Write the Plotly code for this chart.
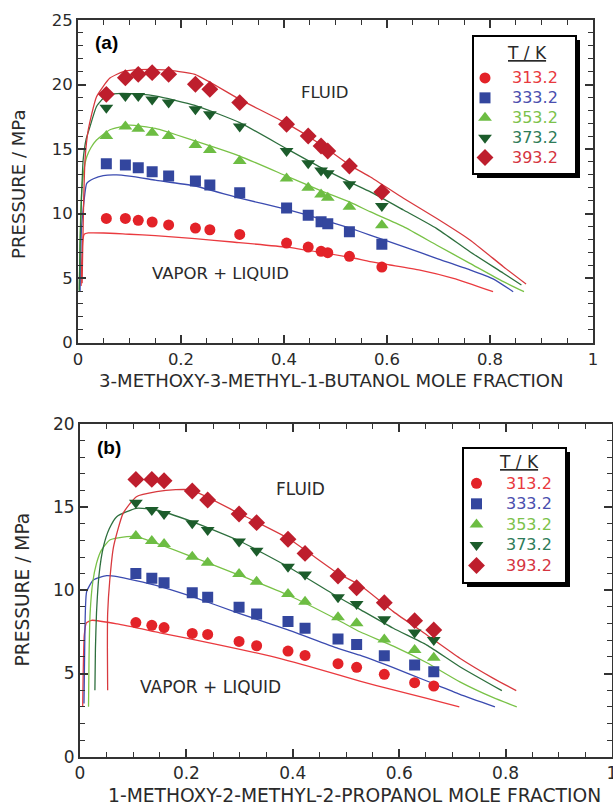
import plotly.graph_objects as go

W, H = 613, 805

# ---------------- data: panel (a) ----------------
TEMPS = ["313.2", "333.2", "353.2", "373.2", "393.2"]

XA = [0.055, 0.092, 0.117, 0.144, 0.176, 0.228, 0.256, 0.314, 0.405, 0.447, 0.472, 0.485, 0.527, 0.590]
PA_313 = [9.63, 9.63, 9.48, 9.35, 9.12, 8.88, 8.75, 8.39, 7.72, 7.41, 7.08, 6.97, 6.69, 5.86]
PA_333 = [13.87, 13.77, 13.56, 13.25, 12.91, 12.53, 12.22, 11.62, 10.43, 9.87, 9.37, 9.22, 8.60, 7.62]
PA_353 = [16.01, 16.74, 16.58, 16.27, 16.01, 15.32, 14.93, 14.08, 12.73, 12.01, 11.49, 11.23, 10.54, 9.09]
PA_373 = [18.21, 19.11, 19.11, 18.85, 18.60, 18.08, 17.69, 16.74, 14.85, 13.90, 13.35, 13.12, 12.27, 10.59]
PA_393 = [19.24, 20.53, 20.79, 20.92, 20.79, 20.02, 19.63, 18.60, 16.92, 16.01, 15.24, 14.85, 13.69, 11.67]

# model curves (a)
LA_313_X = [0.006, 0.007, 0.009, 0.012, 0.02, 0.05, 0.1, 0.15, 0.227, 0.3, 0.405, 0.47, 0.53, 0.567, 0.606, 0.664, 0.729, 0.806]
LA_313_Y = [4.4, 6.0, 7.8, 8.4, 8.5, 8.5, 8.4, 8.3, 8.06, 7.8, 7.4, 7.0, 6.6, 6.28, 6.02, 5.63, 4.99, 3.95]
LA_333_X = [0.004, 0.005, 0.007, 0.01, 0.017, 0.03, 0.049, 0.075, 0.1, 0.15, 0.227, 0.314, 0.405, 0.47, 0.53, 0.567, 0.632, 0.696, 0.761, 0.806, 0.845]
LA_333_Y = [4.0, 6.5, 9.0, 10.3, 12.35, 12.7, 12.95, 13.0, 12.9, 12.6, 12.14, 11.2, 10.33, 9.6, 8.85, 8.34, 7.44, 6.54, 5.65, 4.95, 3.95]
LA_353_X = [0.0025, 0.004, 0.007, 0.012, 0.017, 0.025, 0.036, 0.062, 0.1, 0.15, 0.227, 0.314, 0.405, 0.47, 0.53, 0.567, 0.632, 0.696, 0.761, 0.826, 0.866]
LA_353_Y = [4.1, 8.0, 11.57, 13.5, 14.4, 15.1, 15.7, 16.5, 16.85, 16.6, 15.63, 14.46, 12.91, 11.8, 10.85, 10.15, 8.99, 7.57, 6.15, 4.73, 3.95]
LA_373_X = [0.0025, 0.004, 0.007, 0.01, 0.016, 0.023, 0.036, 0.056, 0.076, 0.12, 0.152, 0.227, 0.314, 0.405, 0.47, 0.53, 0.567, 0.632, 0.696, 0.761, 0.826, 0.861]
LA_373_Y = [4.0, 7.5, 11.5, 14.15, 15.8, 16.7, 18.3, 19.2, 19.3, 19.25, 19.1, 18.39, 17.05, 15.03, 13.6, 12.4, 11.7, 10.28, 8.86, 7.05, 5.38, 4.47]
LA_393_X = [0.008, 0.009, 0.011, 0.0136, 0.02, 0.036, 0.062, 0.088, 0.12, 0.167, 0.227, 0.314, 0.405, 0.47, 0.53, 0.567, 0.632, 0.696, 0.761, 0.826, 0.87]
LA_393_Y = [4.6, 7.0, 11.0, 14.15, 16.5, 19.06, 20.5, 21.0, 21.15, 21.13, 20.79, 18.85, 16.99, 15.4, 13.7, 12.86, 11.19, 9.64, 7.96, 5.89, 4.55]

# ---------------- data: panel (b) ----------------
XB = [0.105, 0.135, 0.158, 0.211, 0.240, 0.299, 0.332, 0.391, 0.423, 0.485, 0.520, 0.572, 0.629, 0.665]
PB_313 = [8.06, 7.90, 7.76, 7.41, 7.35, 6.93, 6.67, 6.35, 6.09, 5.59, 5.37, 4.95, 4.45, 4.25]
PB_333 = [11.02, 10.72, 10.46, 9.86, 9.58, 8.98, 8.58, 8.12, 7.72, 7.07, 6.75, 6.07, 5.51, 5.11]
PB_353 = [13.27, 12.97, 12.79, 12.02, 11.66, 10.98, 10.52, 9.78, 9.32, 8.38, 8.02, 7.05, 6.41, 5.95]
PB_373 = [15.27, 14.83, 14.59, 14.03, 13.63, 12.93, 12.38, 11.42, 10.96, 9.58, 9.18, 8.26, 7.46, 7.01]
PB_393 = [16.67, 16.67, 16.59, 15.97, 15.43, 14.59, 14.07, 13.07, 12.22, 10.86, 10.16, 9.26, 8.18, 7.62]

LB_313_X = [0.005, 0.006, 0.008, 0.012, 0.022, 0.07, 0.15, 0.25, 0.35, 0.45, 0.526, 0.589, 0.652, 0.713]
LB_313_Y = [3.0, 5.0, 7.3, 8.05, 8.2, 7.98, 7.45, 6.8, 6.1, 5.25, 4.55, 4.01, 3.51, 3.0]
LB_333_X = [0.0075, 0.009, 0.0125, 0.025, 0.05, 0.07, 0.143, 0.211, 0.299, 0.391, 0.485, 0.526, 0.589, 0.652, 0.714, 0.78]
LB_333_Y = [3.2, 7.0, 9.92, 10.62, 10.88, 10.82, 10.3, 9.62, 8.62, 7.62, 6.51, 6.1, 5.35, 4.55, 3.75, 3.0]
LB_353_X = [0.016, 0.017, 0.019, 0.024, 0.031, 0.04, 0.056, 0.088, 0.107, 0.211, 0.299, 0.391, 0.485, 0.526, 0.589, 0.652, 0.714, 0.777, 0.821]
LB_353_Y = [3.0, 6.0, 8.62, 10.5, 11.62, 12.4, 13.03, 13.23, 13.23, 12.02, 10.92, 9.72, 8.22, 7.51, 6.65, 5.65, 4.5, 3.55, 3.0]
LB_373_X = [0.028, 0.029, 0.031, 0.036, 0.044, 0.055, 0.069, 0.106, 0.143, 0.211, 0.299, 0.391, 0.485, 0.526, 0.589, 0.652, 0.714, 0.793]
LB_373_Y = [4.0, 6.5, 8.62, 11.0, 12.62, 13.7, 14.43, 14.93, 14.83, 14.13, 12.98, 11.42, 9.6, 8.86, 7.72, 6.71, 5.41, 3.97]
LB_393_X = [0.052, 0.0515, 0.052, 0.056, 0.063, 0.081, 0.106, 0.144, 0.18, 0.21, 0.299, 0.391, 0.485, 0.526, 0.589, 0.652, 0.714, 0.777, 0.82]
LB_393_Y = [4.0, 6.5, 8.62, 10.62, 12.62, 14.63, 15.63, 15.93, 16.05, 16.03, 14.63, 13.13, 11.02, 10.32, 8.72, 7.32, 5.92, 4.71, 3.97]

X_TITLE_A = "3-METHOXY-3-METHYL-1-BUTANOL MOLE FRACTION"
X_TITLE_B = "1-METHOXY-2-METHYL-2-PROPANOL MOLE FRACTION"
Y_TITLE = "PRESSURE / MPa"

# ---------------- styles ----------------
SYMBOLS = ["circle", "square", "triangle-up", "triangle-down", "diamond"]
MARKER_COLORS = ["#e32228", "#33469e", "#6dbd43", "#1c5c2b", "#be1e2d"]
MARKER_SIZES = [11, 11, 12, 12, 13]
LINE_COLORS = ["#ea3a3f", "#3b4bb0", "#79c247", "#2e6f3e", "#d8393e"]
TEXT_COLORS = ["#e8393e", "#4a4eae", "#7cc24b", "#2e7b58", "#d5343f"]
FONT = "DejaVu Sans"
INK = "#2a2a2a"


def px(x):
    return x / W


def py(y):
    return 1 - y / H


fig = go.Figure()

panels = [
    dict(xa="x", ya="y", legend="legend", X=XA, P=[PA_313, PA_333, PA_353, PA_373, PA_393],
         L=[(LA_313_X, LA_313_Y), (LA_333_X, LA_333_Y), (LA_353_X, LA_353_Y), (LA_373_X, LA_373_Y), (LA_393_X, LA_393_Y)]),
    dict(xa="x2", ya="y2", legend="legend2", X=XB, P=[PB_313, PB_333, PB_353, PB_373, PB_393],
         L=[(LB_313_X, LB_313_Y), (LB_333_X, LB_333_Y), (LB_353_X, LB_353_Y), (LB_373_X, LB_373_Y), (LB_393_X, LB_393_Y)]),
]

for p in panels:
    for i in range(5):
        lx, ly = p["L"][i]
        fig.add_trace(go.Scatter(x=lx, y=ly, mode="lines", xaxis=p["xa"], yaxis=p["ya"],
                                 line=dict(color=LINE_COLORS[i], width=1.3, shape="spline", smoothing=0.5),
                                 showlegend=False, hoverinfo="skip"))
    for i in range(5):
        name = '<span style="font-size:16px;color:%s">%s</span>' % (TEXT_COLORS[i], TEMPS[i])
        fig.add_trace(go.Scatter(x=p["X"], y=p["P"][i], mode="markers", xaxis=p["xa"], yaxis=p["ya"],
                                 marker=dict(symbol=SYMBOLS[i], color=MARKER_COLORS[i], size=MARKER_SIZES[i],
                                             line=dict(width=0)),
                                 name=name, legend=p["legend"], showlegend=True))


def axis(rng, dtick, mdtick, dom, anchor, tsize):
    return dict(range=rng, dtick=dtick, tick0=0, domain=dom, anchor=anchor,
                ticks="inside", ticklen=8, tickwidth=1.6, tickcolor="#333",
                showline=True, linecolor="#333", linewidth=2, mirror="ticks",
                showgrid=False, zeroline=False, fixedrange=True, automargin=False,
                ticklabeloverflow="allow",
                minor=dict(dtick=mdtick, tick0=0, ticks="inside", ticklen=5, tickwidth=1.4,
                           tickcolor="#333", showgrid=False),
                tickfont=dict(family=FONT, size=tsize, color=INK))


# pixel geometry of the two plot boxes
A_L, A_R, A_T, A_B = 78, 593, 20, 342.7
B_L, B_R, B_T, B_B = 80, 612, 424, 756.7

fig.update_layout(
    width=W, height=H, margin=dict(l=0, r=0, t=0, b=0, autoexpand=False),
    paper_bgcolor="white", plot_bgcolor="white",
    xaxis=axis([0, 1], 0.2, 0.05, [px(A_L), px(A_R)], "y", 16.5),
    yaxis=axis([0, 25], 5, 1, [py(A_B), py(A_T)], "x", 16.5),
    xaxis2=axis([0, 1], 0.2, 0.05, [px(B_L), px(B_R)], "y2", 17),
    yaxis2=axis([0, 20], 5, 1, [py(B_B), py(B_T)], "x2", 17),
    legend=dict(x=px(458), y=py(63), xanchor="left", yanchor="top", bgcolor="rgba(0,0,0,0)",
                borderwidth=0, itemwidth=44, font=dict(family=FONT, size=13, color=INK),
                itemclick=False, itemdoubleclick=False),
    legend2=dict(x=px(447), y=py(468), xanchor="left", yanchor="top", bgcolor="rgba(0,0,0,0)",
                 borderwidth=0, itemwidth=49, font=dict(family=FONT, size=13.5, color=INK),
                 itemclick=False, itemdoubleclick=False),
    showlegend=True,
)

# legend boxes with drop shadow
shapes = []
for (l, t, r, b) in [(473, 36, 576, 174), (463, 448, 566, 583)]:
    shapes.append(dict(type="rect", xref="paper", yref="paper", x0=px(l + 4), x1=px(r + 4),
                       y0=py(b + 4), y1=py(t + 4), fillcolor="black", line=dict(width=0), layer="above"))
    shapes.append(dict(type="rect", xref="paper", yref="paper", x0=px(l), x1=px(r),
                       y0=py(b), y1=py(t), fillcolor="white", line=dict(color="black", width=2), layer="above"))
fig.update_layout(shapes=shapes)

ann = []
# axis titles
ann.append(dict(text=X_TITLE_A, x=px(331), y=py(380), xref="paper", yref="paper", showarrow=False,
                xanchor="center", yanchor="middle", font=dict(family=FONT, size=18.1, color=INK)))
ann.append(dict(text=X_TITLE_B, x=px(354), y=py(795), xref="paper", yref="paper", showarrow=False,
                xanchor="center", yanchor="middle", font=dict(family=FONT, size=18.7, color=INK)))
ann.append(dict(text=Y_TITLE, x=px(19), y=py(184), xref="paper", yref="paper", showarrow=False, textangle=-90,
                xanchor="center", yanchor="middle", font=dict(family=FONT, size=18.1, color=INK)))
ann.append(dict(text=Y_TITLE, x=px(21.5), y=py(590), xref="paper", yref="paper", showarrow=False, textangle=-90,
                xanchor="center", yanchor="middle", font=dict(family=FONT, size=18.6, color=INK)))
# panel labels
ann.append(dict(text="<b>(a)</b>", x=px(106), y=py(43), xref="paper", yref="paper", showarrow=False,
                xanchor="center", yanchor="middle", font=dict(family="Liberation Sans", size=19, color="black")))
ann.append(dict(text="<b>(b)</b>", x=px(109), y=py(447), xref="paper", yref="paper", showarrow=False,
                xanchor="center", yanchor="middle", font=dict(family="Liberation Sans", size=19, color="black")))
# region labels
ann.append(dict(text="FLUID", x=0.48, y=19.4, xref="x", yref="y", showarrow=False,
                font=dict(family=FONT, size=16.5, color=INK)))
ann.append(dict(text="VAPOR + LIQUID", x=0.277, y=5.33, xref="x", yref="y", showarrow=False,
                font=dict(family=FONT, size=16.5, color=INK)))
ann.append(dict(text="FLUID", x=0.414, y=16.07, xref="x2", yref="y2", showarrow=False,
                font=dict(family=FONT, size=17, color=INK)))
ann.append(dict(text="VAPOR + LIQUID", x=0.246, y=4.21, xref="x2", yref="y2", showarrow=False,
                font=dict(family=FONT, size=17, color=INK)))
# legend titles
ann.append(dict(text="<u>T / K</u>", x=px(527), y=py(53), xref="paper", yref="paper", showarrow=False,
                xanchor="center", yanchor="middle", font=dict(family=FONT, size=17, color=INK)))
ann.append(dict(text="<u>T / K</u>", x=px(519), y=py(462), xref="paper", yref="paper", showarrow=False,
                xanchor="center", yanchor="middle", font=dict(family=FONT, size=17, color=INK)))
fig.update_layout(annotations=ann)

fig.write_html("out.html", config=dict(displayModeBar=False),
               post_script="document.body.style.margin='0px';document.body.style.padding='0px';")
